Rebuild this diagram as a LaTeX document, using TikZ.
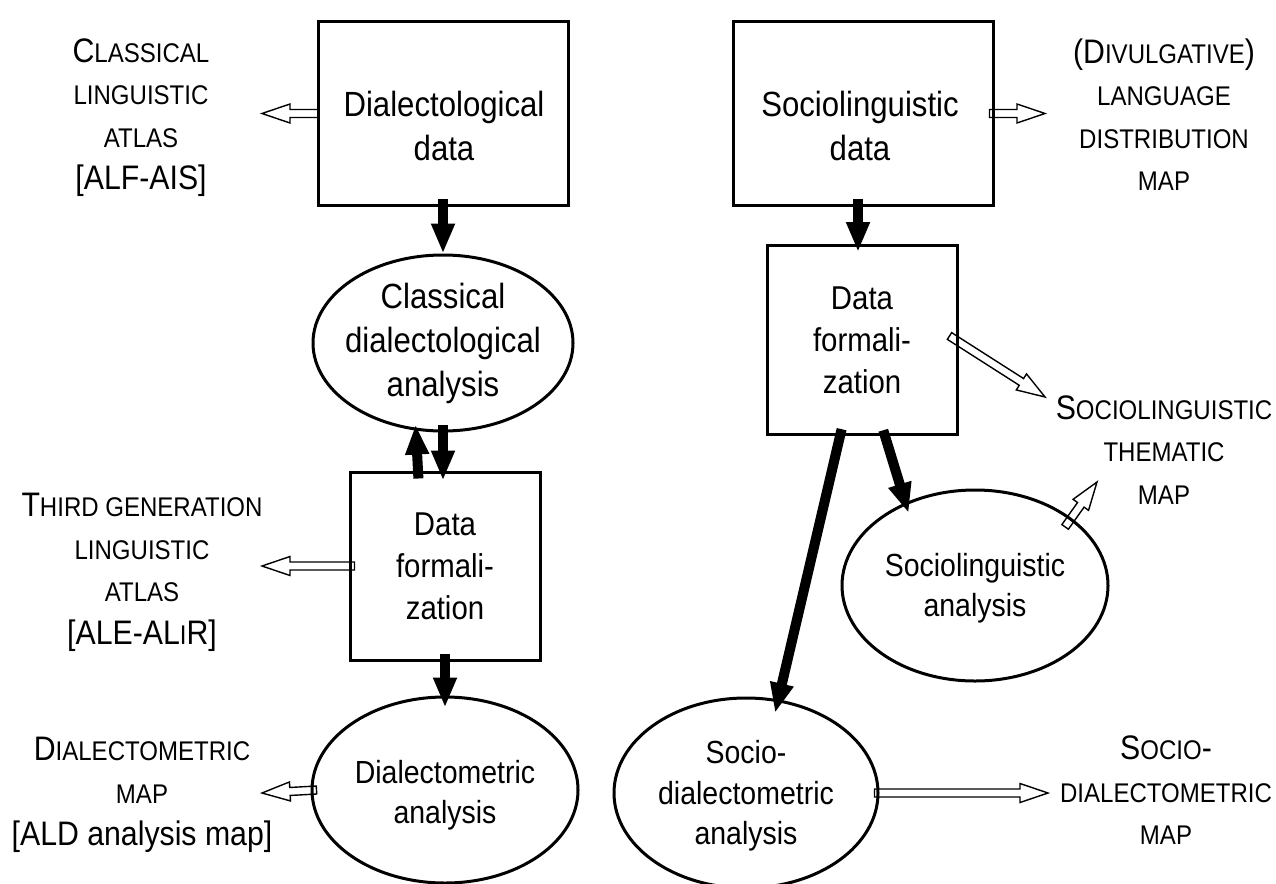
\documentclass[tikz,border=0pt]{standalone}
\usepackage{fontspec}
\setmainfont[FakeStretch=0.89]{Liberation Sans}
\usetikzlibrary{shapes.geometric,arrows.meta,calc}
\pgfdeclarelayer{bg}
\pgfsetlayers{bg,main}
\newcommand\smc[1]{{\fontsize{27}{42.5}\selectfont #1}}
\newcommand\hollowarrow[2]{%
  \coordinate (hb) at ($(#2)!28pt!(#1)$);
  \draw[hollow] ($(#1)!4pt!90:(#2)$) -- ($(hb)!4pt!90:(#2)$) -- ($(hb)!9.5pt!90:(#2)$) -- (#2)
    -- ($(hb)!9.5pt!-90:(#2)$) -- ($(hb)!4pt!-90:(#2)$) -- ($(#1)!4pt!-90:(#2)$) -- cycle;}
\tikzset{
  box/.style={draw, line width=3pt, inner sep=0pt},
  oval/.style={ellipse, draw, line width=3pt, inner sep=0pt},
  txt/.style={align=center, inner sep=0pt, font=\fontsize{32}{40.5}\selectfont},
  midtxt/.style={align=center, inner sep=0pt, font=\fontsize{33}{42}\selectfont},
  bigtxt/.style={align=center, inner sep=0pt, font=\fontsize{35}{44}\selectfont},
  lbl/.style={align=center, inner sep=0pt, font=\fontsize{34}{42.5}\selectfont},
  thickarrow/.style={line width=10pt, -{Triangle[width=22pt,length=30pt]}},
  hollow/.style={draw, fill=white, line width=1.4pt, line join=miter},
}
\begin{document}
\begin{tikzpicture}[x=1pt,y=-1pt]
\useasboundingbox (0,0) rectangle (1276,883);
\begin{scope}
\clip (0,0) rectangle (1276,883);
% left column
\node[box, minimum width=250pt, minimum height=183pt] (box1) at (443,113.5) {};
\node[bigtxt] (box1t) at (444,126) {Dialectological\\data};
\node[oval, minimum width=260pt, minimum height=176pt] (e1) at (443,343) {};
\node[bigtxt] (e1t) at (443,343) {Classical\\dialectological\\analysis};
\node[box, minimum width=190pt, minimum height=188pt] (box2) at (445,566) {};
\node[midtxt] (box2t) at (445,566) {Data\\formali-\\zation};
\node[oval, minimum width=266pt, minimum height=186pt] (e3) at (445,790) {};
\node[txt] (e3t) at (445,795) {Dialectometric\\analysis};
% right column
\node[box, minimum width=260pt, minimum height=183pt] (box3) at (863,113.5) {};
\node[bigtxt] (box3t) at (860,126) {Sociolinguistic\\data};
\node[box, minimum width=190pt, minimum height=189pt] (box4) at (862,340) {};
\node[midtxt] (box4t) at (862,340) {Data\\formali-\\zation};
\node[oval, minimum width=266pt, minimum height=191pt] (esl) at (975,585.5) {};
\node[txt] (eslt) at (975,588) {Sociolinguistic\\analysis};
\node[oval, minimum width=264pt, minimum height=190pt] (esd) at (746,793) {};
\node[txt] (esdt) at (746,796) {Socio-\\dialectometric\\analysis};
% labels
\node[lbl] (l1) at (141,117.5) {C\smc{LASSICAL}\\\smc{LINGUISTIC}\\\smc{ATLAS}\\{}[ALF-AIS]};
\node[lbl] (l2) at (142,572.5) {T\smc{HIRD GENERATION}\\\smc{LINGUISTIC}\\\smc{ATLAS}\\{}[ALE-AL\smc{I}R]};
\node[lbl] (l3) at (142,795) {D\smc{IALECTOMETRIC}\\\smc{MAP}\\{}[ALD analysis map]};
\node[lbl] (l4) at (1164,114.5) {(D\smc{IVULGATIVE})\\\smc{LANGUAGE}\\\smc{DISTRIBUTION}\\\smc{MAP}};
\node[lbl] (l5) at (1164,450) {S\smc{OCIOLINGUISTIC}\\\smc{THEMATIC}\\\smc{MAP}};
\node[lbl] (l6) at (1166,790.5) {S\smc{OCIO}-\\\smc{DIALECTOMETRIC}\\\smc{MAP}};
% thick arrows
\draw[thickarrow, shorten <=-8pt] (box1.south) -- (e1.north);
\draw[thickarrow, shorten <=-8pt, shorten >=-8pt] ([xshift=-27pt]box2.north) -- ([xshift=-27pt]e1.south);
\draw[thickarrow, shorten <=-8pt, shorten >=-10pt] (e1.south) -- ([xshift=-2pt]box2.north);
\draw[thickarrow, shorten <=-8pt, shorten >=-12pt] (box2.south) -- (e3.north);
\draw[thickarrow, shorten <=-8pt, shorten >=-8pt] ([xshift=-5pt]box3.south) -- ([xshift=-4pt]box4.north);
\draw[thickarrow, shorten <=-6pt, shorten >=-11pt] ([xshift=23pt]box4.south) -- (esl.130);
\draw[thickarrow, shorten <=-7pt, shorten >=-14pt] ([xshift=-22pt]box4.south) -- (esd.71);
% hollow arrows
\coordinate (h1s) at ([xshift=2pt]box1.west);
\coordinate (h1t) at (262,113.5);
\coordinate (h2s) at ([xshift=6pt]box2.west);
\coordinate (h2t) at (262,566);
\coordinate (h3s) at ([xshift=6pt]e3.west);
\coordinate (h3t) at (262,793);
\coordinate (h4s) at ([xshift=-5pt]box3.east);
\coordinate (h4t) at (1045,113.5);
\coordinate (h5s) at ([xshift=-9pt,yshift=4pt]box4.east);
\coordinate (h5t) at (1045,397);
\coordinate (h6t) at (1097,482);
\coordinate (h6s) at ($(esl.35)!-11pt!(h6t)$);
\coordinate (h7s) at ([xshift=-5pt]esd.east);
\coordinate (h7t) at (1048,793);
\begin{pgfonlayer}{bg}
\hollowarrow{h1s}{h1t}
\hollowarrow{h2s}{h2t}
\hollowarrow{h3s}{h3t}
\hollowarrow{h4s}{h4t}
\hollowarrow{h5s}{h5t}
\hollowarrow{h6s}{h6t}
\hollowarrow{h7s}{h7t}
\end{pgfonlayer}
\end{scope}
\end{tikzpicture}
\end{document}
